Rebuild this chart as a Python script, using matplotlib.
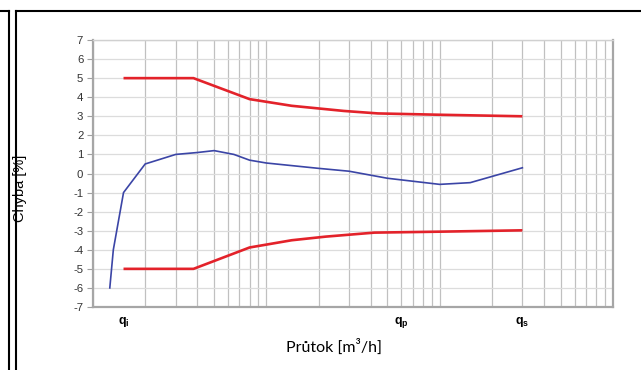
import matplotlib
matplotlib.use("Agg")
import matplotlib.pyplot as plt
from matplotlib.lines import Line2D
from matplotlib.ticker import FixedLocator, NullFormatter

plt.rcParams['mathtext.fontset'] = 'custom'
plt.rcParams['mathtext.rm'] = 'Liberation Sans'
plt.rcParams['mathtext.bf'] = 'Liberation Sans:bold'

# ---- data ----
upper_x = [1.5, 3.8, 8, 14, 28, 44, 100, 300]
upper_y = [5, 5, 3.9, 3.55, 3.28, 3.15, 3.08, 3.0]
lower_x = [1.5, 3.8, 8, 14, 22, 42, 100, 300]
lower_y = [-5, -5, -3.88, -3.5, -3.31, -3.1, -3.05, -2.98]
meter_x = [1.25, 1.31, 1.5, 2, 3, 4, 5, 6.5, 8, 10, 20, 30, 50, 100, 150, 300]
meter_y = [-6, -4, -1, 0.5, 1.0, 1.1, 1.2, 1.0, 0.7, 0.55, 0.27, 0.12, -0.25, -0.57, -0.48, 0.3]
q_positions = [1.5, 60, 300]
q_labels = [r'$\mathbf{q_i}$', r'$\mathbf{q_p}$', r'$\mathbf{q_s}$']
y_ticks = list(range(-7, 8))
x_label = "Průtok [m³/h]"
y_label = "Chyba [%]"

W, H = 641, 370
fig = plt.figure(figsize=(W / 100, H / 100), dpi=100)
fig.patch.set_facecolor('white')

# axes in pixel geometry
L, R, T, B = 93, 613, 40, 307
ax = fig.add_axes([L / W, (H - B) / H, (R - L) / W, (B - T) / H])

ax.plot(upper_x, upper_y, color='#e3222a', lw=1.9, solid_capstyle='butt', zorder=3)
ax.plot(lower_x, lower_y, color='#e3222a', lw=1.9, solid_capstyle='butt', zorder=3)
ax.plot(meter_x, meter_y, color='#3b45a6', lw=1.2, zorder=3)

ax.set_xscale('log')
ax.set_xlim(1, 1000)
ax.set_ylim(-7, 7)

# vertical grid at log subdivisions
minor = [m * 10 ** d for d in range(0, 3) for m in range(1, 10)] + [1000]
ax.xaxis.set_minor_locator(FixedLocator(minor))
ax.xaxis.set_minor_formatter(NullFormatter())
ax.xaxis.set_major_locator(FixedLocator(q_positions))
ax.set_xticklabels(q_labels)
ax.xaxis.remove_overlapping_locs = False
ax.grid(False, which='major', axis='x')
ax.grid(True, which='minor', axis='x', color='#c0c0c0', lw=0.9)
ax.tick_params(axis='x', which='both', length=0, pad=6, labelsize=9)

ax.set_yticks(y_ticks)
ax.set_yticklabels([str(v) for v in y_ticks])
ax.grid(True, which='major', axis='y', color='#dcdcdc', lw=0.9)
ax.tick_params(axis='y', which='major', length=4, width=0.8, color='#a0a0a0',
               labelsize=8.2, labelcolor='#333333', pad=3)
for lbl in ax.get_yticklabels():
    lbl.set_fontfamily('Liberation Sans')
ax.set_axisbelow(True)

for side in ['left', 'bottom', 'right']:
    ax.spines[side].set_color('#a6a6a6')
    ax.spines[side].set_linewidth(1.6)
ax.spines['top'].set_color('#d0d0d0')
ax.spines['top'].set_linewidth(1.0)

# axis titles
fig.text(334 / W, 1 - 347 / H, x_label, ha='center', va='center',
         fontsize=11.5, family=['Lato', 'DejaVu Sans'])
fig.text(20 / W, 1 - 188 / H, y_label, ha='center', va='center', rotation=90,
         fontsize=10.5, family=['Liberation Sans', 'DejaVu Sans'])

# document frame lines
def px_line(x0, y0, x1, y1, lw=1.5):
    fig.add_artist(Line2D([x0 / W, x1 / W], [1 - y0 / H, 1 - y1 / H],
                          transform=fig.transFigure, color='black', lw=lw,
                          solid_capstyle='projecting'))

px_line(0, 11, 9, 11)
px_line(9, 11, 9, 370)
px_line(16, 11, 641, 11)
px_line(16, 11, 16, 370)

fig.savefig('out.png', dpi=100, facecolor='white')
